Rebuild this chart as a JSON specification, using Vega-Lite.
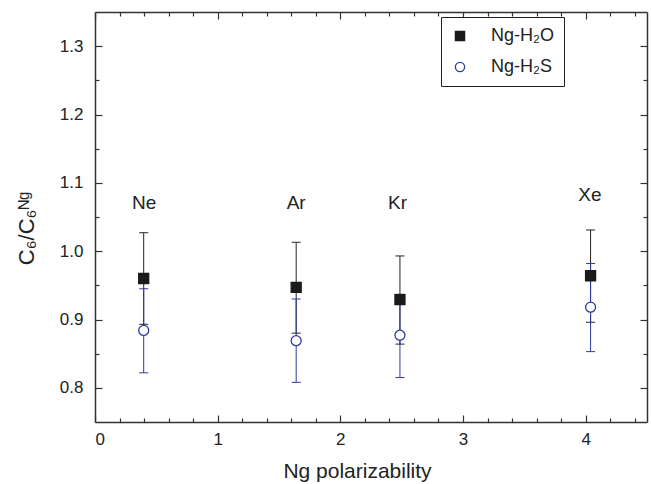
{
  "$schema": "https://vega.github.io/schema/vega-lite/v6.json",
  "width": 552,
  "height": 410,
  "autosize": {"type": "none"},
  "padding": {"left": 95, "top": 12, "right": 4, "bottom": 62},
  "background": "white",
  "datasets": {
    "pts": [
      {"element": "Ne", "series": "Ng-H₂O", "x": 0.397, "y": 0.960, "lo": 0.893, "hi": 1.027},
      {"element": "Ne", "series": "Ng-H₂S", "x": 0.397, "y": 0.884, "lo": 0.822, "hi": 0.945},
      {"element": "Ar", "series": "Ng-H₂O", "x": 1.64, "y": 0.947, "lo": 0.880, "hi": 1.013},
      {"element": "Ar", "series": "Ng-H₂S", "x": 1.64, "y": 0.869, "lo": 0.808, "hi": 0.930},
      {"element": "Kr", "series": "Ng-H₂O", "x": 2.486, "y": 0.929, "lo": 0.864, "hi": 0.993},
      {"element": "Kr", "series": "Ng-H₂S", "x": 2.486, "y": 0.877, "lo": 0.815, "hi": 0.937},
      {"element": "Xe", "series": "Ng-H₂O", "x": 4.04, "y": 0.964, "lo": 0.896, "hi": 1.031},
      {"element": "Xe", "series": "Ng-H₂S", "x": 4.04, "y": 0.918, "lo": 0.853, "hi": 0.982}
    ],
    "lbl": [
      {"label": "Ne", "x": 0.40, "y": 1.071},
      {"label": "Ar", "x": 1.64, "y": 1.071},
      {"label": "Kr", "x": 2.467, "y": 1.071},
      {"label": "Xe", "x": 4.034, "y": 1.082}
    ]
  },
  "config": {
    "font": "Liberation Sans",
    "view": {"stroke": null},
    "axis": {
      "grid": false,
      "labelFont": "Liberation Sans",
      "labelFontSize": 17,
      "labelColor": "#222",
      "tickColor": "#333",
      "tickWidth": 1.2,
      "domainColor": "#333",
      "domainWidth": 1.5,
      "titleFont": "Liberation Sans",
      "titleFontWeight": "normal",
      "titleColor": "#222"
    }
  },
  "resolve": {"axis": {"x": "independent", "y": "independent"}},
  "layer": [
    {
      "data": {"name": "pts"},
      "transform": [{"filter": "datum.series === 'Ng-H₂O'"}],
      "mark": {"type": "rule", "color": "#222", "strokeWidth": 1},
      "encoding": {
        "x": {"field": "x", "type": "quantitative",
          "scale": {"domain": [0, 4.5], "nice": false, "zero": false},
          "axis": {"orient": "bottom", "values": [0, 1, 2, 3, 4], "format": "d", "tickSize": -7, "labelPadding": 16,
            "title": "Ng polarizability", "titleFontSize": 21, "titleX": 262, "titleY": 55, "titleAlign": "center", "titleBaseline": "alphabetic"}},
        "y": {"field": "lo", "type": "quantitative",
          "scale": {"domain": [0.75, 1.35], "nice": false, "zero": false},
          "axis": {"orient": "left", "values": [0.8, 0.9, 1.0, 1.1, 1.2, 1.3], "format": ".1f", "tickSize": -7, "labelPadding": 19,
            "title": "C₆/C₆ᴺᵍ", "titleFontSize": 22, "titleAngle": -90, "titleX": -62, "titleY": 216, "titleAlign": "center", "titleBaseline": "alphabetic"}},
        "y2": {"field": "hi"}
      }
    },
    {
      "data": {"name": "pts"},
      "transform": [{"filter": "datum.series === 'Ng-H₂S'"}],
      "mark": {"type": "rule", "color": "#2b3a9e", "strokeWidth": 1},
      "encoding": {
        "x": {"field": "x", "type": "quantitative",
          "scale": {"domain": [0, 4.5], "nice": false, "zero": false},
          "axis": {"orient": "bottom", "values": [0.2, 0.4, 0.6, 0.8, 1.2, 1.4, 1.6, 1.8, 2.2, 2.4, 2.6, 2.8, 3.2, 3.4, 3.6, 3.8, 4.2, 4.4], "tickSize": -4, "labels": false, "domain": false, "title": null}},
        "y": {"field": "lo", "type": "quantitative",
          "scale": {"domain": [0.75, 1.35], "nice": false, "zero": false},
          "axis": {"orient": "left", "values": [0.85, 0.95, 1.05, 1.15, 1.25], "tickSize": -4, "labels": false, "domain": false, "title": null}},
        "y2": {"field": "hi"}
      }
    },
    {
      "data": {"name": "pts"},
      "transform": [{"filter": "datum.series === 'Ng-H₂O'"}],
      "mark": {"type": "tick", "orient": "horizontal", "size": 9, "thickness": 1, "opacity": 1, "color": "#222"},
      "encoding": {
        "x": {"field": "x", "type": "quantitative",
          "scale": {"domain": [0, 4.5], "nice": false, "zero": false},
          "axis": {"orient": "top", "values": [0, 1, 2, 3, 4], "tickSize": -7, "labels": false, "title": null}},
        "y": {"field": "lo", "type": "quantitative",
          "scale": {"domain": [0.75, 1.35], "nice": false, "zero": false},
          "axis": {"orient": "right", "values": [0.8, 0.9, 1.0, 1.1, 1.2, 1.3], "tickSize": -7, "labels": false, "title": null}}
      }
    },
    {
      "data": {"name": "pts"},
      "transform": [{"filter": "datum.series === 'Ng-H₂O'"}],
      "mark": {"type": "tick", "orient": "horizontal", "size": 9, "thickness": 1, "opacity": 1, "color": "#222"},
      "encoding": {
        "x": {"field": "x", "type": "quantitative",
          "scale": {"domain": [0, 4.5], "nice": false, "zero": false},
          "axis": {"orient": "top", "values": [0.2, 0.4, 0.6, 0.8, 1.2, 1.4, 1.6, 1.8, 2.2, 2.4, 2.6, 2.8, 3.2, 3.4, 3.6, 3.8, 4.2, 4.4], "tickSize": -4, "labels": false, "domain": false, "title": null}},
        "y": {"field": "hi", "type": "quantitative",
          "scale": {"domain": [0.75, 1.35], "nice": false, "zero": false},
          "axis": {"orient": "right", "values": [0.85, 0.95, 1.05, 1.15, 1.25], "tickSize": -4, "labels": false, "domain": false, "title": null}}
      }
    },
    {
      "data": {"name": "pts"},
      "transform": [{"filter": "datum.series === 'Ng-H₂S'"}],
      "mark": {"type": "tick", "orient": "horizontal", "size": 9, "thickness": 1, "opacity": 1, "color": "#2b3a9e"},
      "encoding": {
        "x": {"field": "x", "type": "quantitative", "scale": {"domain": [0, 4.5], "nice": false, "zero": false}, "axis": null},
        "y": {"field": "lo", "type": "quantitative", "scale": {"domain": [0.75, 1.35], "nice": false, "zero": false}, "axis": null}
      }
    },
    {
      "data": {"name": "pts"},
      "transform": [{"filter": "datum.series === 'Ng-H₂S'"}],
      "mark": {"type": "tick", "orient": "horizontal", "size": 9, "thickness": 1, "opacity": 1, "color": "#2b3a9e"},
      "encoding": {
        "x": {"field": "x", "type": "quantitative", "scale": {"domain": [0, 4.5], "nice": false, "zero": false}, "axis": null},
        "y": {"field": "hi", "type": "quantitative", "scale": {"domain": [0.75, 1.35], "nice": false, "zero": false}, "axis": null}
      }
    },
    {
      "data": {"name": "pts"},
      "mark": {"type": "point", "size": 100, "strokeWidth": 1.3, "opacity": 1},
      "encoding": {
        "x": {"field": "x", "type": "quantitative", "scale": {"domain": [0, 4.5], "nice": false, "zero": false}, "axis": null},
        "y": {"field": "y", "type": "quantitative", "scale": {"domain": [0.75, 1.35], "nice": false, "zero": false}, "axis": null},
        "shape": {"field": "series", "type": "nominal", "scale": {"domain": ["Ng-H₂O", "Ng-H₂S"], "range": ["square", "circle"]},
          "legend": {"orient": "none", "legendX": 346, "legendY": 5, "title": null, "strokeColor": "#222", "fillColor": "white", "padding": 10, "labelFont": "Liberation Sans", "labelFontSize": 18, "labelColor": "#222", "labelOffset": 22, "rowPadding": 13, "symbolSize": 85, "symbolStrokeWidth": 1.3}},
        "fill": {"field": "series", "type": "nominal", "scale": {"domain": ["Ng-H₂O", "Ng-H₂S"], "range": ["#1a1a1a", "#ffffff"]},
          "legend": {"orient": "none", "legendX": 346, "legendY": 5, "title": null, "strokeColor": "#222", "fillColor": "white", "padding": 10, "labelFont": "Liberation Sans", "labelFontSize": 18, "labelColor": "#222", "labelOffset": 22, "rowPadding": 13, "symbolSize": 85, "symbolStrokeWidth": 1.3}},
        "stroke": {"field": "series", "type": "nominal", "scale": {"domain": ["Ng-H₂O", "Ng-H₂S"], "range": ["#1a1a1a", "#2b3a9e"]},
          "legend": {"orient": "none", "legendX": 346, "legendY": 5, "title": null, "strokeColor": "#222", "fillColor": "white", "padding": 10, "labelFont": "Liberation Sans", "labelFontSize": 18, "labelColor": "#222", "labelOffset": 22, "rowPadding": 13, "symbolSize": 85, "symbolStrokeWidth": 1.3}}
      }
    },
    {
      "data": {"name": "lbl"},
      "mark": {"type": "text", "font": "Liberation Sans", "fontSize": 19, "color": "#222", "baseline": "middle", "align": "center"},
      "encoding": {
        "x": {"field": "x", "type": "quantitative", "scale": {"domain": [0, 4.5], "nice": false, "zero": false}, "axis": null},
        "y": {"field": "y", "type": "quantitative", "scale": {"domain": [0.75, 1.35], "nice": false, "zero": false}, "axis": null},
        "text": {"field": "label"}
      }
    }
  ]
}
